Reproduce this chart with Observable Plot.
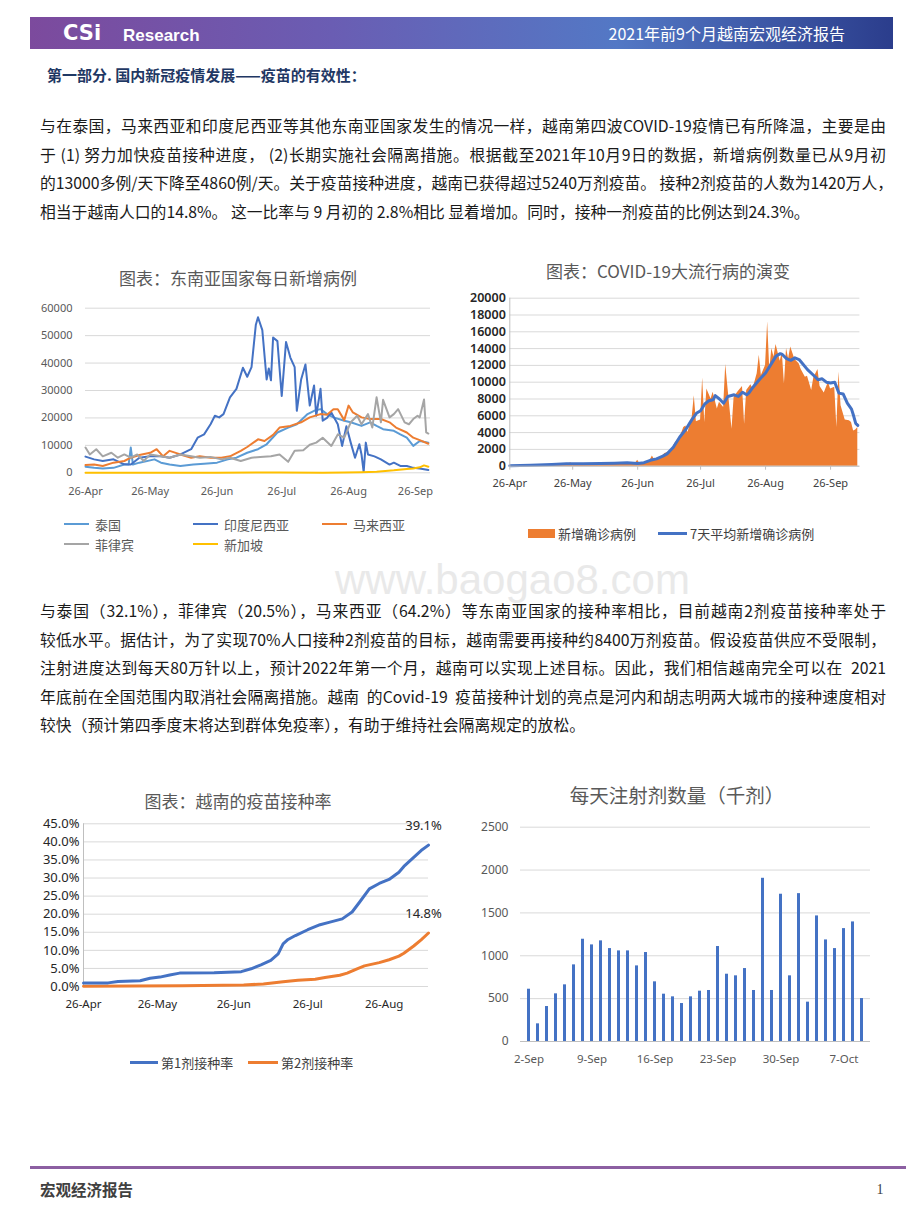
<!DOCTYPE html>
<html><head><meta charset="utf-8">
<script src="https://cdn.jsdelivr.net/npm/d3@7"></script>
<script src="https://cdn.jsdelivr.net/npm/@observablehq/plot@0.6"></script>
<style>
body{margin:0;background:#fff;}
#page{position:relative;width:920px;height:1227px;overflow:hidden;font-family:"Noto Sans CJK SC","Noto Sans",sans-serif;color:#222;}
.hdr{position:absolute;left:30px;top:17px;width:863px;height:32px;background:linear-gradient(90deg,#7c4a9d 0%,#6a5db3 35%,#5378c5 68%,#2b3d8c 100%);}
.pl{position:absolute;left:40px;width:846px;font-size:15.8px;white-space:nowrap;text-align:justify;text-align-last:justify;line-height:20px;color:#1a1a1a;}
.pl.last{text-align:left;text-align-last:left;}
.chart{position:absolute;}
</style></head>
<body><div id="page"></div>
<script>
// ---------------- DATA ----------------
const para1 = [
 "与在泰国，马来西亚和印度尼西亚等其他东南亚国家发生的情况一样，越南第四波COVID-19疫情已有所降温，主要是由",
 "于 (1) 努力加快疫苗接种进度， (2)长期实施社会隔离措施。根据截至2021年10月9日的数据，新增病例数量已从9月初",
 "的13000多例/天下降至4860例/天。关于疫苗接种进度，越南已获得超过5240万剂疫苗。 接种2剂疫苗的人数为1420万人，",
 "相当于越南人口的14.8%。 这一比率与 9 月初的 2.8%相比 显着增加。同时，接种一剂疫苗的比例达到24.3%。"
];
const para2 = [
 "与泰国（32.1%），菲律宾（20.5%），马来西亚（64.2%）等东南亚国家的接种率相比，目前越南2剂疫苗接种率处于",
 "较低水平。据估计，为了实现70%人口接种2剂疫苗的目标，越南需要再接种约8400万剂疫苗。假设疫苗供应不受限制，",
 "注射进度达到每天80万针以上，预计2022年第一个月，越南可以实现上述目标。因此，我们相信越南完全可以在\u00a0\u00a02021",
 "年底前在全国范围内取消社会隔离措施。越南\u00a0\u00a0的Covid-19\u00a0\u00a0疫苗接种计划的亮点是河内和胡志明两大城市的接种速度相对",
 "较快（预计第四季度末将达到群体免疫率），有助于维持社会隔离规定的放松。"
];

// Chart 1: daily new cases in SE Asia
const thailand = [["04-26",2200],["04-30",1800],["05-04",1600],["05-09",1800],["05-14",3000],["05-16",3000],["05-17",9200],["05-18",3000],["05-21",3700],["05-28",4900],["05-31",3700],["06-04",3000],["06-09",2500],["06-15",3000],["06-20",3300],["06-26",3700],["07-01",4900],["07-05",5500],["07-10",7300],["07-15",8600],["07-19",10400],["07-24",14700],["07-29",16500],["08-02",17700],["08-07",21400],["08-10",22600],["08-13",23200],["08-16",21400],["08-19",20200],["08-24",19000],["08-27",18400],["09-01",17100],["09-05",18400],["09-08",17100],["09-11",15900],["09-16",15300],["09-19",14000],["09-22",12800],["09-25",9800],["09-28",11600],["10-02",11000]];
const indonesia = [["04-26",5900],["04-30",4900],["05-04",4300],["05-09",4900],["05-14",3100],["05-17",3000],["05-21",5500],["05-26",6000],["05-31",6000],["06-04",5500],["06-09",6700],["06-14",8600],["06-17",12800],["06-20",14000],["06-23",17700],["06-25",20800],["06-27",20200],["06-29",21400],["07-02",27500],["07-05",30600],["07-08",38300],["07-10",35000],["07-12",38500],["07-14",54000],["07-15",56700],["07-17",52000],["07-19",34000],["07-20",38000],["07-21",33700],["07-22",49300],["07-24",48000],["07-26",28000],["07-28",47700],["07-30",42000],["08-01",38500],["08-02",22600],["08-04",34000],["08-06",39500],["08-08",24500],["08-10",31800],["08-11",20800],["08-13",30600],["08-14",19000],["08-16",20000],["08-18",22000],["08-21",17700],["08-23",9800],["08-25",17000],["08-27",11000],["08-29",5500],["08-31",10400],["09-01",6700],["09-02",300],["09-03",11000],["09-04",6700],["09-07",6000],["09-10",4900],["09-14",3000],["09-16",3700],["09-19",2500],["09-22",2500],["09-25",1800],["09-28",1600],["10-02",1000]];
const malaysia = [["04-26",2800],["04-30",3000],["05-04",2500],["05-09",3700],["05-14",4300],["05-17",5500],["05-21",6500],["05-26",7300],["05-29",8600],["06-01",6000],["06-04",8000],["06-09",6700],["06-14",5500],["06-18",6000],["06-23",5500],["06-28",5500],["07-02",6000],["07-07",8000],["07-10",9400],["07-15",12200],["07-18",11600],["07-22",13800],["07-25",16500],["07-30",17100],["08-04",18400],["08-08",20200],["08-13",21400],["08-16",21200],["08-19",23200],["08-21",23200],["08-24",19200],["08-26",24500],["08-28",22000],["09-01",20200],["09-05",19600],["09-10",19600],["09-14",18400],["09-17",16500],["09-22",14700],["09-25",12800],["09-28",11900],["10-02",10600]];
const philippines = [["04-26",9200],["04-28",6700],["05-01",8600],["05-04",6000],["05-08",7300],["05-11",5500],["05-14",6700],["05-17",5500],["05-20",6700],["05-23",4300],["05-26",6700],["05-31",6000],["06-04",5500],["06-09",6700],["06-14",6000],["06-18",5500],["06-23",5800],["06-28",4900],["07-02",5500],["07-07",4300],["07-12",5500],["07-16",5800],["07-21",6000],["07-25",6700],["07-29",4000],["08-01",8000],["08-05",8200],["08-08",10200],["08-11",11000],["08-14",12800],["08-18",9800],["08-21",14000],["08-24",12800],["08-27",18400],["08-30",20800],["09-01",17700],["09-04",21400],["09-06",16500],["09-08",27500],["09-10",18400],["09-11",26600],["09-14",20200],["09-16",21400],["09-18",23200],["09-21",18400],["09-23",17700],["09-25",19600],["09-27",20800],["09-28",20200],["09-30",26700],["10-01",14700],["10-02",14300]];
const singapore = [["04-26",20],["05-26",30],["06-25",20],["07-25",150],["08-14",60],["08-24",100],["09-01",200],["09-08",400],["09-16",900],["09-22",1400],["09-25",1600],["09-28",2000],["09-30",2700],["10-02",2200]];
const c1Names = ["泰国","印度尼西亚","马来西亚","菲律宾","新加坡"];
const c1Colors = ["#5B9BD5","#4472C4","#ED7D31","#A5A5A5","#FFC000"];
const c1Y = [0,10000,20000,30000,40000,50000,60000];
const dateTicks = ["04-26","05-26","06-26","07-26","08-26","09-26"];

// Chart 2: Vietnam daily cases and 7-day average
const vnDaily = [["04-26",50],["05-07",100],["05-15",150],["05-24",200],["05-25",420],["05-26",200],["06-08",300],["06-16",350],["06-22",400],["06-25",350],["06-26",700],["06-27",320],["06-30",500],["07-02",700],["07-03",1200],["07-04",800],["07-07",1000],["07-09",1500],["07-11",1700],["07-12",1900],["07-14",2800],["07-16",3300],["07-18",4600],["07-19",4800],["07-20",4000],["07-22",5800],["07-23",8400],["07-24",5300],["07-26",5500],["07-27",10500],["07-28",5200],["07-29",9200],["07-31",8000],["08-01",8800],["08-03",6800],["08-04",7600],["08-06",7000],["08-07",12100],["08-08",9500],["08-10",4400],["08-11",8200],["08-13",8900],["08-15",9500],["08-16",5000],["08-17",9000],["08-19",9700],["08-20",9200],["08-22",11000],["08-23",13200],["08-24",10800],["08-26",12000],["08-27",17200],["08-28",11500],["08-29",14000],["08-30",13000],["08-31",14500],["09-02",12500],["09-03",13500],["09-04",9800],["09-05",14000],["09-06",12800],["09-07",14200],["09-09",12700],["09-11",12200],["09-12",11500],["09-14",10600],["09-15",10700],["09-17",9000],["09-18",10500],["09-20",11500],["09-21",9500],["09-23",8700],["09-25",10000],["09-26",9200],["09-28",9400],["09-29",4600],["09-30",11200],["10-01",7200],["10-03",5500],["10-05",5400],["10-06",5200],["10-07",4200],["10-08",4300],["10-09",4600]];
const vnAvg = [["04-26",60],["05-06",120],["05-16",200],["05-23",280],["05-31",300],["06-08",320],["06-15",360],["06-21",400],["06-26",320],["06-29",420],["07-02",700],["07-05",870],["07-08",1200],["07-10",1470],["07-13",2260],["07-16",3450],["07-19",4400],["07-22",5600],["07-24",6300],["07-26",6600],["07-28",7400],["07-30",7800],["08-01",7900],["08-02",8400],["08-04",8000],["08-06",7500],["08-08",8300],["08-11",8500],["08-13",8300],["08-15",8800],["08-17",8500],["08-18",8700],["08-20",9400],["08-23",10300],["08-26",11100],["08-29",12300],["08-31",13100],["09-02",13400],["09-03",13300],["09-05",12800],["09-07",12600],["09-09",12900],["09-11",12700],["09-12",12400],["09-15",11500],["09-18",10800],["09-20",10300],["09-22",10400],["09-24",10000],["09-26",9900],["09-28",10000],["09-30",8700],["10-02",8600],["10-04",7500],["10-06",6800],["10-07",6000],["10-08",5100],["10-09",4860]];
const c2Names = ["新增确诊病例","7天平均新增确诊病例"];
const c2Y = [0,2000,4000,6000,8000,10000,12000,14000,16000,18000,20000];

// Chart 3: vaccination rate (%)
const dose1 = [["04-26",1.0],["05-06",1.0],["05-10",1.4],["05-19",1.6],["05-23",2.3],["05-27",2.6],["05-31",3.2],["06-04",3.7],["06-18",3.8],["06-29",4.1],["07-03",4.9],["07-07",6.0],["07-11",7.2],["07-14",9.0],["07-16",11.8],["07-18",13.0],["07-21",14.1],["07-26",15.7],["07-31",17.1],["08-04",17.8],["08-09",18.7],["08-13",20.6],["08-16",23.3],["08-20",27.0],["08-24",28.5],["08-28",29.6],["09-01",31.6],["09-03",33.2],["09-06",35.1],["09-10",37.6],["09-13",39.1]];
const dose2 = [["04-26",0.1],["06-05",0.2],["06-30",0.4],["07-08",0.7],["07-16",1.3],["07-22",1.7],["07-29",2.0],["08-02",2.5],["08-08",3.1],["08-11",3.7],["08-15",4.9],["08-18",5.7],["08-24",6.6],["08-28",7.4],["09-01",8.4],["09-03",9.2],["09-07",11.2],["09-10",12.9],["09-13",14.8]];
const c3Names = ["第1剂接种率","第2剂接种率"];
const c3Y = [0,5,10,15,20,25,30,35,40,45];
const c3Ticks = ["04-26","05-26","06-26","07-26","08-26"];

// Chart 4: daily doses (thousand)
const doseDays = ["2-Sep","3-Sep","4-Sep","5-Sep","6-Sep","7-Sep","8-Sep","9-Sep","10-Sep","11-Sep","12-Sep","13-Sep","14-Sep","15-Sep","16-Sep","17-Sep","18-Sep","19-Sep","20-Sep","21-Sep","22-Sep","23-Sep","24-Sep","25-Sep","26-Sep","27-Sep","28-Sep","29-Sep","30-Sep","1-Oct","2-Oct","3-Oct","4-Oct","5-Oct","6-Oct","7-Oct","8-Oct","9-Oct"];
const doseValues = [610,206,408,556,661,894,1193,1127,1174,1084,1057,1057,882,1038,696,552,521,443,521,587,595,1108,785,766,851,595,1904,595,1718,766,1725,459,1465,1185,1084,1317,1395,501];
const doseTicks = ["2-Sep","9-Sep","16-Sep","23-Sep","30-Sep","7-Oct"];
const c4Y = [0,500,1000,1500,2000,2500];

// ---------------- HELPERS ----------------
const page = document.getElementById("page");
const parseD = d3.utcParse("%Y-%m-%d");
const P = s => parseD("2021-" + s);
const rows = arr => arr.map(([d, v]) => ({date: P(d), value: v}));
const fmtDate = d3.utcFormat("%-d-%b");
const fmtInt = d3.format("d");
const FONT = "'Noto Sans','Noto Sans CJK SC',sans-serif";

function txt(s, x, y, css, anchor) {
  const d = document.createElement("div");
  d.textContent = s;
  d.style.cssText = "position:absolute;white-space:nowrap;line-height:1;left:" + x + "px;top:" + y + "px;" + (css || "");
  const tx = anchor === "middle" ? "-50%" : anchor === "end" ? "-100%" : "0";
  d.style.transform = "translate(" + tx + ",-50%)";
  page.appendChild(d);
  return d;
}
function box(x, y, w, h, bg) {
  const d = document.createElement("div");
  d.style.cssText = "position:absolute;left:" + x + "px;top:" + y + "px;width:" + w + "px;height:" + h + "px;background:" + bg + ";";
  page.appendChild(d);
  return d;
}
function place(svg, left, top) {
  const d = document.createElement("div");
  d.className = "chart";
  d.style.left = left + "px"; d.style.top = top + "px";
  d.appendChild(svg);
  page.appendChild(d);
}

// ---------------- PAGE TEXT ----------------
const hdr = document.createElement("div"); hdr.className = "hdr"; page.appendChild(hdr);
txt("CSi", 63, 32.5, "color:#fff;font-family:'DejaVu Sans',sans-serif;font-weight:bold;font-size:21px;letter-spacing:0px;");
txt("Research", 123, 35, "color:#fff;font-family:'Liberation Sans',sans-serif;font-weight:bold;font-size:17px;");
txt("2021年前9个月越南宏观经济报告", 845, 33, "color:#fff;font-size:16px;", "end");
txt("第一部分. 国内新冠疫情发展——疫苗的有效性：", 47, 74, "color:#1f3864;font-weight:bold;font-size:15px;");

para1.forEach((s, i) => {
  const d = document.createElement("div");
  d.className = "pl" + (i === para1.length - 1 ? " last" : "");
  d.style.top = (116 + i * 28.7) + "px";
  d.textContent = s; page.appendChild(d);
});
txt("www.baogao8.com", 335, 580, "color:#e9e9e9;font-family:'Liberation Sans',sans-serif;font-size:42px;");
para2.forEach((s, i) => {
  const d = document.createElement("div");
  d.className = "pl" + (i === para2.length - 1 ? " last" : "");
  d.style.top = (601 + i * 28.5) + "px";
  d.textContent = s; page.appendChild(d);
});

box(30, 1166, 876, 2.5, "#8c5fa2");
txt("宏观经济报告", 40, 1190, "color:#404040;font-weight:bold;font-size:15.5px;");
txt("1", 880, 1190, "color:#404040;font-size:14px;font-family:'Liberation Serif',serif;", "middle");

// ---------------- CHART 1 ----------------
const c1Series = [thailand, indonesia, malaysia, philippines, singapore];
const c1 = Plot.plot({
  width: 400, height: 205, marginLeft: 45, marginRight: 10, marginTop: 12.7, marginBottom: 27.7,
  style: {background: "transparent", fontFamily: FONT, fontSize: "11px", color: "#595959", overflow: "visible"},
  x: {type: "utc", domain: [P("04-26"), P("10-03")]},
  y: {domain: [0, 60000]},
  marks: [
    Plot.gridY({ticks: c1Y, stroke: "#d9d9d9", strokeOpacity: 1}),
    Plot.axisY({ticks: c1Y, tickSize: 0, tickPadding: 13, label: null, fontSize: 11, tickFormat: fmtInt}),
    Plot.axisX({ticks: dateTicks.map(P), tickSize: 0, tickPadding: 14, tickFormat: fmtDate, label: null, fontSize: 11}),
    ...c1Series.map((s, i) => Plot.lineY(rows(s), {x: "date", y: "value", stroke: c1Colors[i], strokeWidth: 2}))
  ]
});
place(c1, 40, 295);
txt("图表：东南亚国家每日新增病例", 238, 277, "color:#595959;font-size:17px;", "middle");
const leg1 = [[64, 524], [193, 524], [322, 524], [64, 544], [193, 544]];
c1Names.forEach((n, i) => {
  const [lx, ly] = leg1[i];
  box(lx, ly - 1.25, 25, 2.5, c1Colors[i]);
  txt(n, lx + 31, ly, "color:#595959;font-size:13px;");
});

// ---------------- CHART 2 ----------------
const c2Start = P("04-26");
const c2 = Plot.plot({
  width: 420, height: 210, marginLeft: 49.3, marginRight: 20.6, marginTop: 12.7, marginBottom: 29.3,
  style: {background: "transparent", fontFamily: FONT, fontSize: "11px", color: "#404040", overflow: "visible"},
  x: {type: "utc", domain: [c2Start, P("10-10")]},
  y: {domain: [0, 20000]},
  marks: [
    Plot.gridY({ticks: c2Y, stroke: "#d9d9d9", strokeOpacity: 1}),
    Plot.areaY(rows(vnDaily), {x: "date", y: "value", fill: "#ED7D31"}),
    Plot.lineY(rows(vnAvg), {x: "date", y: "value", stroke: "#4472C4", strokeWidth: 3}),
    Plot.ruleY([0], {stroke: "#bfbfbf"}),
    Plot.ruleX([c2Start], {stroke: "#bfbfbf"}),
    Plot.axisY({ticks: c2Y, tickSize: 0, tickPadding: 4, label: null, fontSize: 12.5, fontWeight: 600, fill: "#262626", tickFormat: fmtInt}),
    Plot.axisX({ticks: dateTicks.map(P), tickSize: 4, tickPadding: 9, tickFormat: fmtDate, label: null, fontSize: 11, stroke: "#bfbfbf", fill: "#404040"})
  ]
});
place(c2, 460, 285);
txt("图表：COVID-19大流行病的演变", 668, 270, "color:#595959;font-size:17px;", "middle");
box(528, 529, 27, 9, "#ED7D31");
txt(c2Names[0], 558, 533, "color:#404040;font-size:13px;");
box(658, 531.5, 29, 3, "#4472C4");
txt(c2Names[1], 690, 533, "color:#404040;font-size:13px;");

// ---------------- CHART 3 ----------------
const c3Start = P("04-26");
const d1 = rows(dose1), d2 = rows(dose2);
const c3 = Plot.plot({
  width: 420, height: 200, marginLeft: 53, marginRight: 22, marginTop: 13.3, marginBottom: 24,
  style: {background: "transparent", fontFamily: FONT, fontSize: "11px", color: "#404040", overflow: "visible"},
  x: {type: "utc", domain: [c3Start, P("09-13")]},
  y: {domain: [0, 45]},
  marks: [
    Plot.gridY({ticks: c3Y, stroke: "#d9d9d9", strokeOpacity: 1}),
    Plot.ruleX([c3Start], {stroke: "#bfbfbf"}),
    Plot.axisY({ticks: c3Y, tickSize: 0, tickPadding: 4, label: null, fontSize: 13, tickFormat: d => d.toFixed(1) + "%", fill: "#262626"}),
    Plot.axisX({ticks: c3Ticks.map(P), tickSize: 0, tickPadding: 13, tickFormat: fmtDate, label: null, fontSize: 11.5, fill: "#262626"}),
    Plot.lineY(d2, {x: "date", y: "value", stroke: "#ED7D31", strokeWidth: 3}),
    Plot.lineY(d1, {x: "date", y: "value", stroke: "#4472C4", strokeWidth: 3}),
    Plot.text([d1[d1.length - 1], d2[d2.length - 1]], {x: "date", y: "value", text: d => d.value.toFixed(1) + "%", dx: -5, dy: -19, fontSize: 13, fill: "#262626"})
  ]
});
place(c3, 30, 810);
txt("图表：越南的疫苗接种率", 238, 800, "color:#595959;font-size:17px;", "middle");
box(130, 1060.5, 28, 3, "#4472C4");
txt(c3Names[0], 161, 1062, "color:#404040;font-size:13px;");
box(248, 1060.5, 30, 3, "#ED7D31");
txt(c3Names[1], 281, 1062, "color:#404040;font-size:13px;");

// ---------------- CHART 4 ----------------
const c4 = Plot.plot({
  width: 420, height: 255, marginLeft: 60, marginRight: 10, marginTop: 11.7, marginBottom: 29,
  style: {background: "transparent", fontFamily: FONT, fontSize: "11.5px", color: "#595959", overflow: "visible"},
  x: {type: "band", domain: doseDays, paddingInner: 0.62, paddingOuter: 0.31},
  y: {domain: [0, 2500]},
  marks: [
    Plot.gridY({ticks: c4Y, stroke: "#d9d9d9", strokeOpacity: 1}),
    Plot.barY(doseDays.map((d, i) => ({day: d, value: doseValues[i]})), {x: "day", y: "value", fill: "#4472C4"}),
    Plot.ruleY([0], {stroke: "#bfbfbf"}),
    Plot.axisY({ticks: c4Y, tickSize: 0, tickPadding: 12, label: null, fontSize: 12, tickFormat: fmtInt}),
    Plot.axisX({ticks: doseTicks, tickSize: 0, tickPadding: 13, label: null, fontSize: 11.5})
  ]
});
place(c4, 460, 815);
txt("每天注射剂数量（千剂）", 677, 795, "color:#595959;font-size:19.5px;", "middle");
</script>
</body></html>
